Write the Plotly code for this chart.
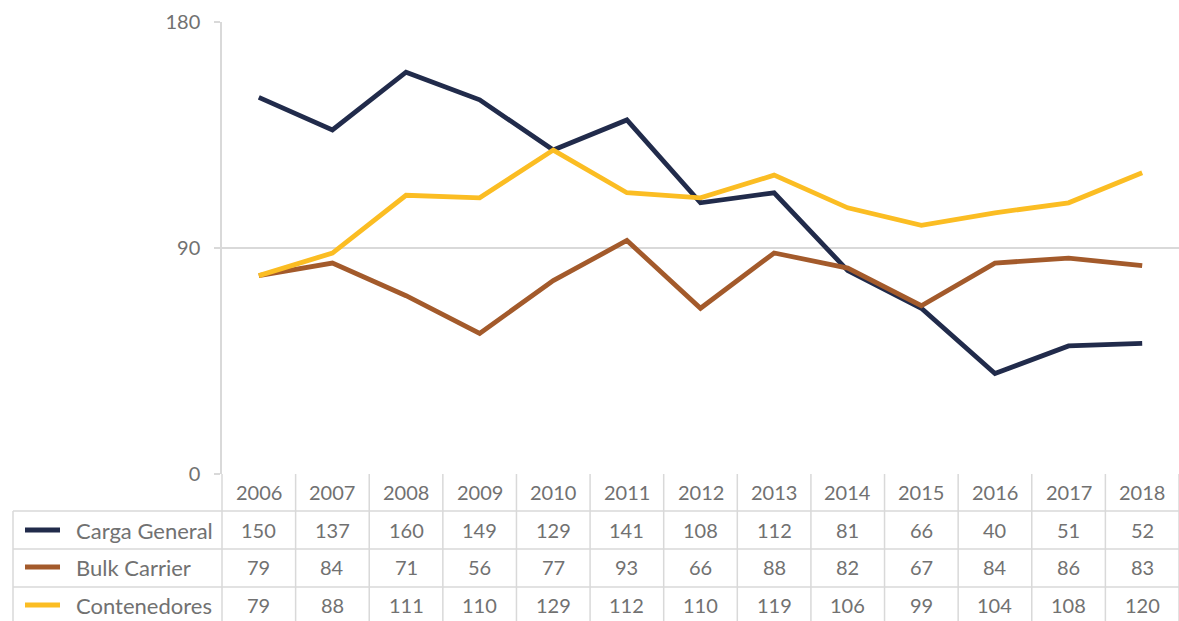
import plotly.graph_objects as go

years = ["2006", "2007", "2008", "2009", "2010", "2011", "2012", "2013", "2014", "2015", "2016", "2017", "2018"]
series_names = ["Carga General", "Bulk Carrier", "Contenedores"]
carga_general = [150, 137, 160, 149, 129, 141, 108, 112, 81, 66, 40, 51, 52]
bulk_carrier = [79, 84, 71, 56, 77, 93, 66, 88, 82, 67, 84, 86, 83]
contenedores = [79, 88, 111, 110, 129, 112, 110, 119, 106, 99, 104, 108, 120]
y_ticks = [0, 90, 180]

series_values = [carga_general, bulk_carrier, contenedores]
colors = ["#212b4b", "#a35a2b", "#fbbd23"]

W, H = 1179, 621
L, T, B = 222, 22, 147
PLOT_H = H - T - B  # 452
PLOT_W = W - L
GRID = "#d9d9d9"
TXT = "#717171"
FONT = "Lato"
NUM_SIZE = 20
LBL_SIZE = 22


def py(p):  # pixel y -> paper y
    return (H - B - p) / PLOT_H


def px(p):  # pixel x -> paper x
    return (p - L) / PLOT_W


fig = go.Figure()
x_idx = list(range(len(years)))
for name, vals, c in zip(series_names, series_values, colors):
    fig.add_trace(go.Scatter(x=x_idx, y=vals, mode="lines", name=name,
                             line=dict(color=c, width=4.8), showlegend=False))

shapes = []
row_tops = [474, 511, 549, 587, 626]
for r in row_tops[1:-1]:
    shapes.append(dict(type="line", xref="paper", yref="paper", x0=px(13), x1=1.0,
                       y0=py(r), y1=py(r), line=dict(color=GRID, width=1.5)))
shapes.append(dict(type="line", xref="paper", yref="paper", x0=px(13), x1=px(13),
                   y0=py(511), y1=py(626), line=dict(color=GRID, width=1.5)))
for k in range(len(years) + 1):
    xp = k / len(years)
    shapes.append(dict(type="line", xref="paper", yref="paper", x0=xp, x1=xp,
                       y0=py(474), y1=py(626), line=dict(color=GRID, width=1.5)))

annotations = []
row_centers = [492, 530, 567, 605]
for i, yr in enumerate(years):
    annotations.append(dict(x=i, y=py(row_centers[0]), xref="x", yref="paper", text=yr,
                            showarrow=False, font=dict(family=FONT, size=NUM_SIZE, color=TXT),
                            xanchor="center", yanchor="middle"))
for r, (name, vals, c) in enumerate(zip(series_names, series_values, colors)):
    yc = py(row_centers[r + 1])
    for i, v in enumerate(vals):
        annotations.append(dict(x=i, y=yc, xref="x", yref="paper", text=str(v),
                                showarrow=False, font=dict(family=FONT, size=NUM_SIZE, color=TXT),
                                xanchor="center", yanchor="middle"))
    annotations.append(dict(x=px(74), y=yc, xref="paper", yref="paper", text=name,
                            showarrow=False, font=dict(family=FONT, size=LBL_SIZE, color=TXT),
                            xanchor="left", yanchor="middle"))
    shapes.append(dict(type="line", xref="paper", yref="paper", x0=px(25), x1=px(60),
                       y0=yc, y1=yc, line=dict(color=c, width=5)))

fig.update_layout(
    width=W, height=H,
    margin=dict(l=L, r=0, t=T, b=B, pad=0),
    paper_bgcolor="white", plot_bgcolor="white",
    shapes=shapes, annotations=annotations,
    xaxis=dict(range=[-0.5, len(years) - 0.5], showgrid=False, showticklabels=False,
               zeroline=False, showline=False, ticks=""),
    yaxis=dict(range=[0, 180], tickvals=y_ticks, showgrid=True, gridcolor=GRID, gridwidth=1.5,
               zeroline=False, showline=True, linecolor=GRID, linewidth=1.5,
               ticks="outside", ticklen=6, tickcolor=GRID, tickwidth=1.5,
               tickfont=dict(family=FONT, size=NUM_SIZE, color=TXT), ticklabelstandoff=10),
)

fig.write_html("out.html", config={"displayModeBar": False},
               post_script="document.body.style.margin='0';document.body.style.overflow='hidden';")
